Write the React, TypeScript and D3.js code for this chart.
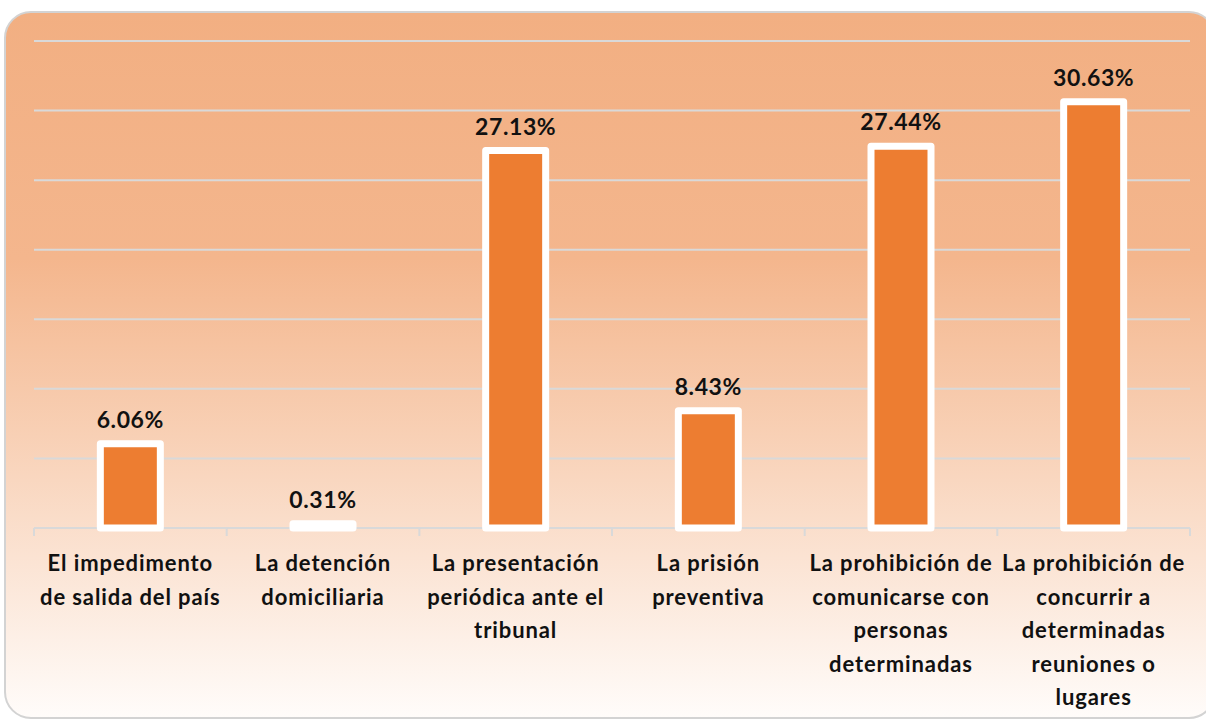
import React from "react";
import * as d3 from "d3";

const categories: string[][] = [
  ["El impedimento", "de salida del país"],
  ["La detención", "domiciliaria"],
  ["La presentación", "periódica ante el", "tribunal"],
  ["La prisión", "preventiva"],
  ["La prohibición de", "comunicarse con", "personas", "determinadas"],
  ["La prohibición de", "concurrir a", "determinadas", "reuniones o", "lugares"],
];
const values: number[] = [6.06, 0.31, 27.13, 8.43, 27.44, 30.63];
const yTicks: number[] = [0, 5, 10, 15, 20, 25, 30, 35];

const W = 1206;
const H = 723;
const FONT = "Lato, 'Open Sans', sans-serif";

export default function App() {
  const left = 34, right = 1190, top = 41, bottom = 528;
  const x = d3.scaleBand<number>().domain(d3.range(values.length)).range([left, right]).paddingInner(0).paddingOuter(0);
  const y = d3.scaleLinear().domain([0, 35]).range([bottom, top]);
  const barW = 60;

  return (
    <svg width={W} height={H} style={{ position: "absolute", left: 0, top: 0 }}>
      <defs>
        <linearGradient id="bg" x1="0" y1="0" x2="0" y2="1">
          <stop offset="0" stopColor="#F2AF82" />
          <stop offset="0.35" stopColor="#F4B68D" />
          <stop offset="0.6" stopColor="#F8D0B5" />
          <stop offset="1" stopColor="#FFFCFA" />
        </linearGradient>
      </defs>
      <rect x={0} y={0} width={W} height={H} fill="#ffffff" />
      <rect x={5} y={12} width={1210} height={706} rx={26} ry={26} fill="url(#bg)" stroke="#D3D3D3" strokeWidth={2} />
      {yTicks.slice(1).map((t) => (
        <line key={t} x1={left} x2={right} y1={y(t)} y2={y(t)} stroke="#D9D9D9" strokeWidth={2} />
      ))}
      <line x1={left} x2={right} y1={bottom} y2={bottom} stroke="#D9D9D9" strokeWidth={2} />
      {d3.range(values.length + 1).map((i) => {
        const xx = i < values.length ? (x(i) as number) : right;
        return <line key={i} x1={xx} x2={xx} y1={bottom} y2={bottom + 8} stroke="#D9D9D9" strokeWidth={2} />;
      })}
      {values.map((v, i) => {
        const cx = (x(i) as number) + x.bandwidth() / 2;
        return (
          <g key={i}>
            <rect
              x={cx - barW / 2}
              y={y(v)}
              width={barW}
              height={bottom - y(v)}
              fill="#ED7D31"
              stroke="#FFFFFF"
              strokeWidth={7}
              strokeLinejoin="round"
            />
            <text
              x={cx}
              y={y(v) - 16}
              textAnchor="middle"
              fontFamily={FONT}
              fontWeight={700}
              fontSize={23}
              letterSpacing={0.6}
              fill="#111"
            >
              {v.toFixed(2)}%
            </text>
            <text textAnchor="middle" fontFamily={FONT} fontWeight={700} fontSize={22} letterSpacing={0.9} fill="#111">
              {categories[i].map((line, j) => (
                <tspan key={j} x={cx} y={571 + j * 33.5}>
                  {line}
                </tspan>
              ))}
            </text>
          </g>
        );
      })}
    </svg>
  );
}
